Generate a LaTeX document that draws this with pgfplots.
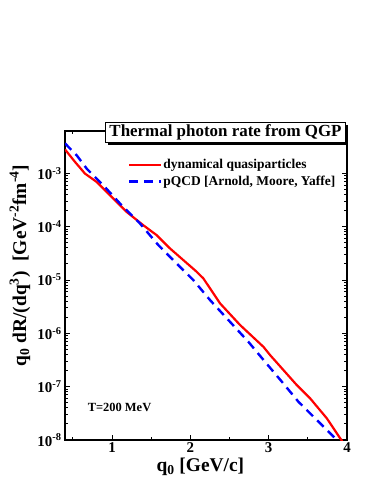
\documentclass[border=0pt]{standalone}
\usepackage{fontspec}
\setmainfont{Liberation Serif}
\usepackage{pgfplots}
\pgfplotsset{compat=1.18}
\usetikzlibrary{shadows}
\begin{document}
\begin{tikzpicture}[x=1bp,y=1bp]
\path[use as bounding box] (0,0) rectangle (374,484);
\begin{axis}[
  at={(65bp,44bp)}, anchor=south west,
  scale only axis, width=282bp, height=309bp,
  xmin=0.4, xmax=4, ymode=log, ymin=1e-8, ymax=6.2e-3,
  axis line style={line width=1.2bp},
  tick align=inside, xtick pos=both, ytick pos=both,
  major tick length=5bp, minor tick length=3bp,
  every tick/.style={black, line width=0.9bp},
  xtick={1,2,3,4}, xticklabels={1,2,3,4},
  minor xtick={0.5,1.5,2.5,3.5},
  ytick={1e-8,1e-7,1e-6,1e-5,1e-4,1e-3},
  yticklabels={10\textsuperscript{-8},10\textsuperscript{-7},10\textsuperscript{-6},10\textsuperscript{-5},10\textsuperscript{-4},10\textsuperscript{-3}},
  tick label style={font=\fontsize{15}{15}\selectfont\bfseries},
  xticklabel style={yshift=1bp},
  xlabel={q\textsubscript{0} [GeV/c]},
  ylabel={q\textsubscript{0} dR/(dq\textsuperscript{3})~~[GeV\textsuperscript{-2}fm\textsuperscript{-4}]},
  label style={font=\fontsize{19.5}{19.5}\selectfont\bfseries},
  xlabel style={at={(axis description cs:0.48,-0.087)}, anchor=center},
  ylabel style={at={(axis description cs:-0.16,0.565)}, anchor=center},
  legend style={at={(axis description cs:0.212,0.919)}, anchor=north west, draw=none, fill=none,
     font=\fontsize{13.5}{13.5}\selectfont\bfseries, row sep=4bp, nodes={inner sep=1bp}},
  legend cell align=left,
  legend image code/.code={\draw[#1] (0bp,0bp) -- (32bp,0bp);},
]
\addplot[red, line width=2.2bp, no marks] coordinates {
(0.40,2.8e-3) (0.528,1.63e-3) (0.655,9.86e-4) (0.805,6.87e-4) (0.975,3.87e-4)
(1.188,1.88e-4) (1.400,1.06e-4) (1.571,6.90e-5) (1.741,3.89e-5) (2.082,1.42e-5)
(2.166,1.07e-5) (2.380,3.63e-6) (2.635,1.43e-6) (2.933,5.58e-7) (3.018,3.91e-7)
(3.359,1.07e-7) (3.529,6.04e-8) (3.742,2.55e-8) (3.912,1.08e-8) (3.94,9.5e-9)
};
\addlegendentry{dynamical quasiparticles}
\addplot[blue, line width=2.4bp, dash pattern=on 9bp off 6bp, no marks] coordinates {
(0.40,3.63e-3) (0.549,2.17e-3) (0.677,1.22e-3) (0.889,5.96e-4) (1.102,2.71e-4)
(1.358,1.14e-4) (1.592,4.49e-5) (1.805,2.18e-5) (2.039,9.91e-6) (2.252,4.19e-6)
(2.486,1.77e-6) (2.741,6.93e-7) (2.954,2.92e-7) (3.168,1.24e-7) (3.380,5.21e-8)
(3.615,2.37e-8) (3.848,1.08e-8) (3.87,9.8e-9)
};
\addlegendentry{pQCD [Arnold, Moore, Yaffe]}
\end{axis}
\node[draw, fill=white, line width=0.8bp, inner xsep=4bp, inner ysep=2.5bp,
  text height=12bp, text depth=3.5bp,
  drop shadow={shadow xshift=2.5bp, shadow yshift=-2.5bp, opacity=1, fill=black},
  font=\fontsize{17}{17}\selectfont\bfseries] at (225.5,351.5) {Thermal photon rate from QGP};
\node[font=\fontsize{12.5}{12.5}\selectfont\bfseries] at (119.5,77) {T=200 MeV};
\end{tikzpicture}
\end{document}
